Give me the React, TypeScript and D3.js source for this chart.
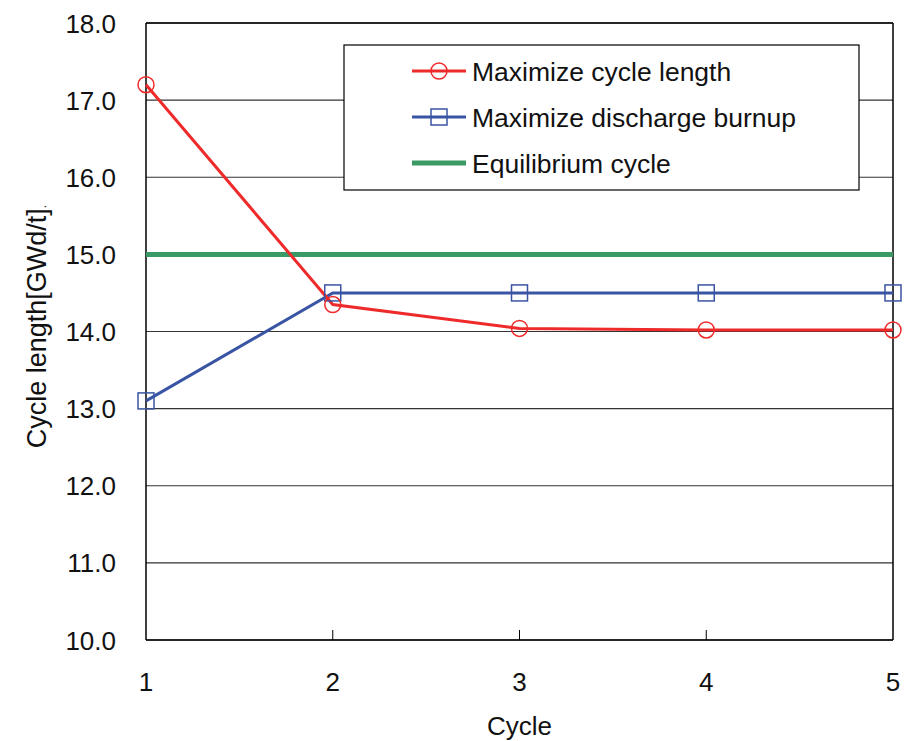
import React from "react";
import * as d3 from "d3";

const cycles = [1, 2, 3, 4, 5];
const maxCycleLength = [17.2, 14.35, 14.04, 14.02, 14.02];
const maxDischargeBurnup = [13.1, 14.5, 14.5, 14.5, 14.5];
const equilibrium = [15.0, 15.0, 15.0, 15.0, 15.0];
const yTicks = [10, 11, 12, 13, 14, 15, 16, 17, 18];
const seriesNames = ["Maximize cycle length", "Maximize discharge burnup", "Equilibrium cycle"];

const W = 913, H = 741;
const M = { left: 146, right: 893, top: 23, bottom: 640 };
const FONT = "'Liberation Sans', Arial, sans-serif";

export default function App() {
  const x = d3.scaleLinear().domain([1, 5]).range([M.left, M.right]);
  const y = d3.scaleLinear().domain([10, 18]).range([M.bottom, M.top]);
  const line = d3.line<number>().x((_, i) => x(cycles[i])).y((d) => y(d));
  const red = "#ee2a2a";
  const blue = "#3a54a4";
  const green = "#3a9a66";
  const legendRows = [
    { name: seriesNames[0], color: red, w: 3, marker: "circle" },
    { name: seriesNames[1], color: blue, w: 3, marker: "square" },
    { name: seriesNames[2], color: green, w: 5, marker: "none" },
  ];
  const lx0 = 412, lx1 = 466, ly = [71, 117, 163];
  return (
    <svg width={W} height={H} style={{ position: "absolute", left: 0, top: 0, background: "#fff" }}>
      <rect x={0} y={0} width={W} height={H} fill="#fff" />
      {yTicks.map((t) => (
        <line key={"g" + t} x1={M.left} x2={M.right} y1={y(t)} y2={y(t)} stroke="#333" strokeWidth={1.2} />
      ))}
      {cycles.slice(1, 4).map((c) => (
        <line key={"xt" + c} x1={x(c)} x2={x(c)} y1={M.bottom} y2={M.bottom - 10} stroke="#000" strokeWidth={1} />
      ))}
      <line x1={M.left} x2={M.left} y1={M.top} y2={M.bottom} stroke="#000" strokeWidth={1.5} />
      <line x1={M.right} x2={M.right} y1={M.top} y2={M.bottom} stroke="#000" strokeWidth={1.5} />
      <line x1={M.left} x2={M.right} y1={M.bottom} y2={M.bottom} stroke="#000" strokeWidth={1.5} />
      <line x1={M.left} x2={M.right} y1={M.top} y2={M.top} stroke="#000" strokeWidth={1.5} />
      {yTicks.map((t) => (
        <text key={"yl" + t} x={116} y={y(t) + 9.5} textAnchor="end" fontFamily={FONT} fontSize={26} fill="#111">
          {t.toFixed(1)}
        </text>
      ))}
      {cycles.map((c) => (
        <text key={"xl" + c} x={x(c)} y={691} textAnchor="middle" fontFamily={FONT} fontSize={26} fill="#111">
          {c}
        </text>
      ))}
      <text x={(M.left + M.right) / 2} y={735} textAnchor="middle" fontFamily={FONT} fontSize={26} fill="#111">
        Cycle
      </text>
      <text transform={`translate(46, ${(M.top + M.bottom) / 2 - 5}) rotate(-90)`} textAnchor="middle" fontFamily={FONT} fontSize={27} fill="#111">
        Cycle length[GWd/t]<tspan fontSize={12}>.</tspan>
      </text>
      <path d={line(equilibrium) || ""} fill="none" stroke={green} strokeWidth={5} />
      <path d={line(maxDischargeBurnup) || ""} fill="none" stroke={blue} strokeWidth={3} />
      <path d={line(maxCycleLength) || ""} fill="none" stroke={red} strokeWidth={3} />
      {maxDischargeBurnup.map((v, i) => (
        <rect key={"sq" + i} x={x(cycles[i]) - 8} y={y(v) - 8} width={16} height={16} fill="none" stroke={blue} strokeWidth={1.5} />
      ))}
      {maxCycleLength.map((v, i) => (
        <circle key={"ci" + i} cx={x(cycles[i])} cy={y(v)} r={8} fill="none" stroke={red} strokeWidth={1.5} />
      ))}
      <rect x={344} y={45} width={515} height={145} fill="#fff" stroke="#000" strokeWidth={1.2} />
      {legendRows.map((r, i) => (
        <g key={"lg" + i}>
          <line x1={lx0} x2={lx1} y1={ly[i]} y2={ly[i]} stroke={r.color} strokeWidth={r.w} />
          {r.marker === "circle" && <circle cx={(lx0 + lx1) / 2} cy={ly[i]} r={8} fill="none" stroke={r.color} strokeWidth={1.5} />}
          {r.marker === "square" && <rect x={(lx0 + lx1) / 2 - 8} y={ly[i] - 8} width={16} height={16} fill="none" stroke={r.color} strokeWidth={1.5} />}
          <text x={472} y={ly[i] + 9.5} fontFamily={FONT} fontSize={26.5} fill="#111">{r.name}</text>
        </g>
      ))}
    </svg>
  );
}
